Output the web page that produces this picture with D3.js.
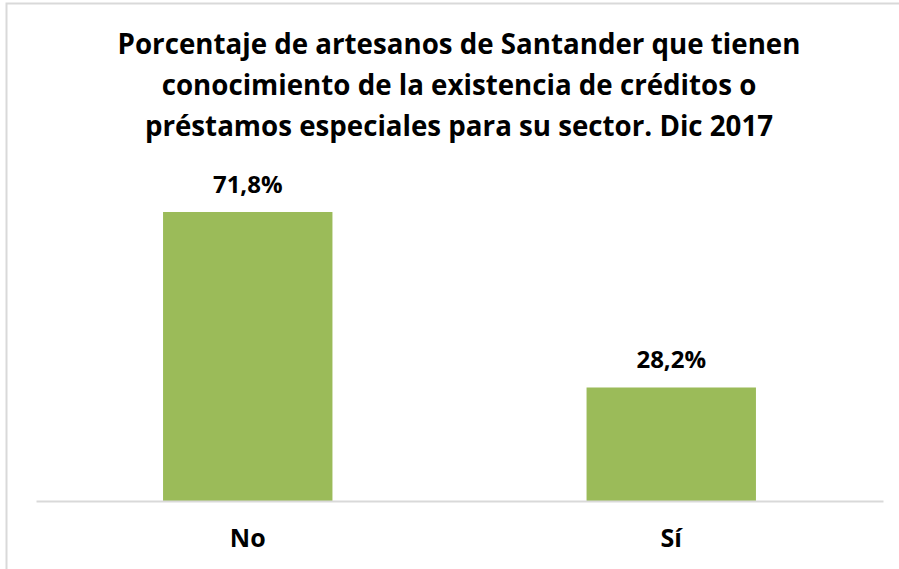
<!DOCTYPE html>
<html>
<head>
<meta charset="utf-8">
<script src="https://cdn.jsdelivr.net/npm/d3@7"></script>
<style>
  body { margin: 0; background: #fff; }
  svg { display: block; font-family: "Open Sans", sans-serif; }
</style>
</head>
<body>
<svg id="chart" width="899" height="569"></svg>
<script>
  const categories = ["No", "Sí"];
  const values = [71.8, 28.2];
  const titleLines = [
    "Porcentaje de artesanos de Santander que tienen",
    "conocimiento de la existencia de créditos o",
    "préstamos especiales para su sector. Dic 2017"
  ];

  const svg = d3.select("#chart");
  const W = 899, H = 569;
  const plot = { left: 36, right: 883, bottom: 501, top: 179 };

  // chart frame (only top/left edges are visible in the crop)
  svg.append("rect")
    .attr("x", 6.5).attr("y", 3.5)
    .attr("width", W + 10).attr("height", H + 10)
    .attr("fill", "#fff")
    .attr("stroke", "#d9d9d9")
    .attr("stroke-width", 2);

  svg.append("g")
    .selectAll("text")
    .data(titleLines)
    .join("text")
    .attr("x", 459)
    .attr("y", (d, i) => 54 + i * 41)
    .attr("text-anchor", "middle")
    .attr("font-size", 27.7)
    .attr("font-weight", 700)
    .attr("fill", "#000")
    .text(d => d);

  const x = d3.scaleBand()
    .domain(categories)
    .range([plot.left, plot.right])
    .paddingInner(0.6)
    .paddingOuter(0.3);

  const y = d3.scaleLinear()
    .domain([0, 80])
    .range([plot.bottom, plot.top]);

  const data = categories.map((c, i) => ({ cat: c, value: values[i] }));

  svg.append("g")
    .selectAll("rect")
    .data(data)
    .join("rect")
    .attr("x", d => x(d.cat))
    .attr("y", d => y(d.value))
    .attr("width", x.bandwidth())
    .attr("height", d => y(0) - y(d.value))
    .attr("fill", "#9bbb59");

  // category axis
  const xAxis = svg.append("g")
    .attr("transform", `translate(0,${plot.bottom})`)
    .call(d3.axisBottom(x).tickSize(0).tickPadding(28));
  xAxis.select(".domain")
    .attr("stroke", "#d9d9d9")
    .attr("stroke-width", 2);
  xAxis.selectAll("text")
    .attr("font-family", "Open Sans, sans-serif")
    .attr("font-size", 25)
    .attr("font-weight", 700)
    .attr("fill", "#000");

  // value labels
  svg.append("g")
    .selectAll("text")
    .data(data)
    .join("text")
    .attr("x", d => x(d.cat) + x.bandwidth() / 2)
    .attr("y", d => y(d.value) - 19)
    .attr("text-anchor", "middle")
    .attr("font-size", 24)
    .attr("font-weight", 700)
    .attr("fill", "#000")
    .text(d => d3.format(".1f")(d.value).replace(".", ",") + "%");
</script>
</body>
</html>
